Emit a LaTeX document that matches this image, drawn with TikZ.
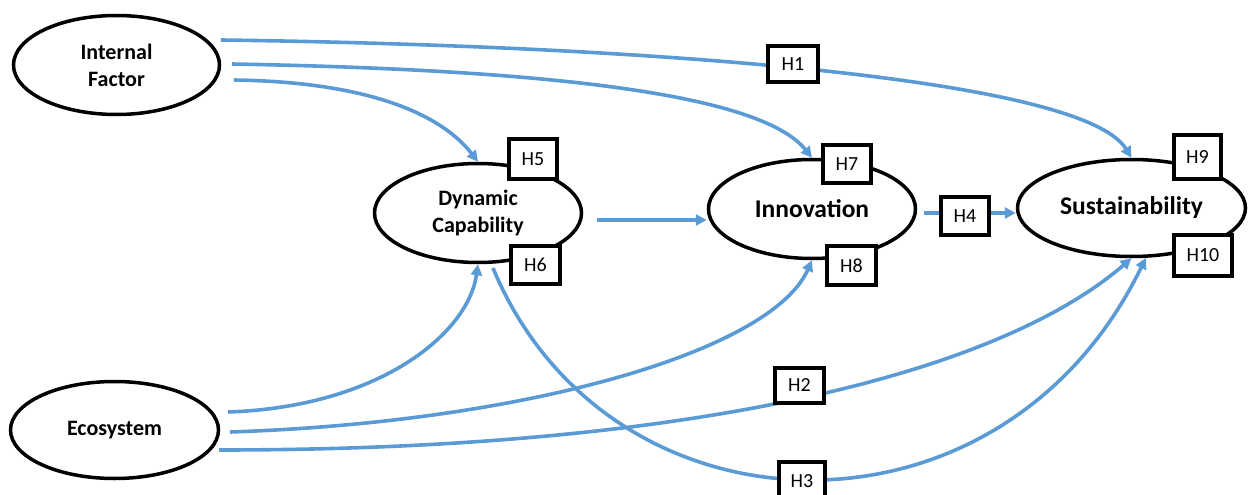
\documentclass[tikz,border=0pt]{standalone}
\usepackage{fontspec}
\setmainfont{Carlito}
\usetikzlibrary{shapes.geometric,arrows.meta,backgrounds}
\definecolor{linkblue}{RGB}{91,155,213}

\begin{document}
\begin{tikzpicture}[x=1pt,y=-1pt,
  latent/.style={ellipse,draw,line width=3.5pt,fill=white,inner sep=0pt,align=center,
    font=\fontsize{22}{27}\selectfont\bfseries},
  bigtext/.style={font=\fontsize{25.5}{30}\selectfont\bfseries},
  hyp/.style={rectangle,draw,line width=4pt,fill=white,inner sep=0pt,
    minimum width=49.5pt,minimum height=38pt,font=\fontsize{20}{22}\selectfont},
  link/.style={linkblue,line width=3.6pt,-{Triangle[length=11pt,width=11pt]}}]

\useasboundingbox (0,0) rectangle (1248,495);

% constructs
\node[latent,minimum width=206pt,minimum height=99pt] (if) at (116.5,65) {Internal\\Factor};
\node[latent,minimum width=208pt,minimum height=97pt] (eco) at (114.5,430) {Ecosystem};
\node[latent,minimum width=207pt,minimum height=99pt] (dc) at (478,213) {Dynamic\\Capability};
\node[latent,bigtext,minimum width=207pt,minimum height=99pt] (inn) at (812,209) {Innovation};
\node[latent,bigtext,minimum width=228pt,minimum height=97pt] (sus) at (1131.5,208) {Sustainability};

% hypotheses
\node[hyp,minimum width=50.5pt,minimum height=36.5pt] (h1) at (793,64) {H1};
\node[hyp,minimum height=35.5pt] (h2) at (799.5,385.5) {H2};
\node[hyp,minimum width=46.5pt,minimum height=38pt] (h3) at (802,481) {H3};
\node[hyp,minimum width=48.5pt] (h4) at (965,216) {H4};
\node[hyp,minimum width=48.5pt,minimum height=40.5pt] (h5) at (533,159) {H5};
\node[hyp] (h6) at (535.5,265) {H6};
\node[hyp,minimum width=48.5pt] (h7) at (847,164) {H7};
\node[hyp,minimum height=39.5pt] (h8) at (851.5,265.5) {H8};
\node[hyp,minimum width=47.5pt,minimum height=44.5pt] (h9) at (1197.5,157) {H9};
\node[hyp,minimum width=58.5pt,minimum height=41.5pt] (h10) at (1203,255.5) {H10};

% paths
\begin{scope}[on background layer]
\draw[link] ([shift={(104.5,-25)}]if.center) .. controls +(379,5) and +(-52,-84) .. (sus.north);
\draw[link] ([shift={(115.5,-1)}]if.center) .. controls +(330,6) and +(-50,-62) .. (inn.north);
\draw[link] ([shift={(117.5,15)}]if.center) .. controls +(140,2) and +(-35,-45) .. (dc.north);
\draw[link] ([shift={(113.5,-18)}]eco.center) .. controls +(150,-5) and +(-10,70) .. (dc.south);
\draw[link] ([shift={(115.5,2)}]eco.center) .. controls +(300,-10) and +(-40,90) .. (inn.south);
\draw[link] ([shift={(104.5,20)}]eco.center) .. controls +(481,0) and +(-131.5,113.5) .. (sus.south);
\draw[link] ([shift={(15,55)}]dc.center) .. controls +(115,277) and +(-145,299) .. (sus.-74);
\draw[link] ([shift={(119,7)}]dc.center) coordinate (dcout) -- (dcout -| inn.west);
\draw[link] ([shift={(112,4)}]inn.center) coordinate (innout) -- (innout -| sus.west);
\end{scope}
\end{tikzpicture}
\end{document}
